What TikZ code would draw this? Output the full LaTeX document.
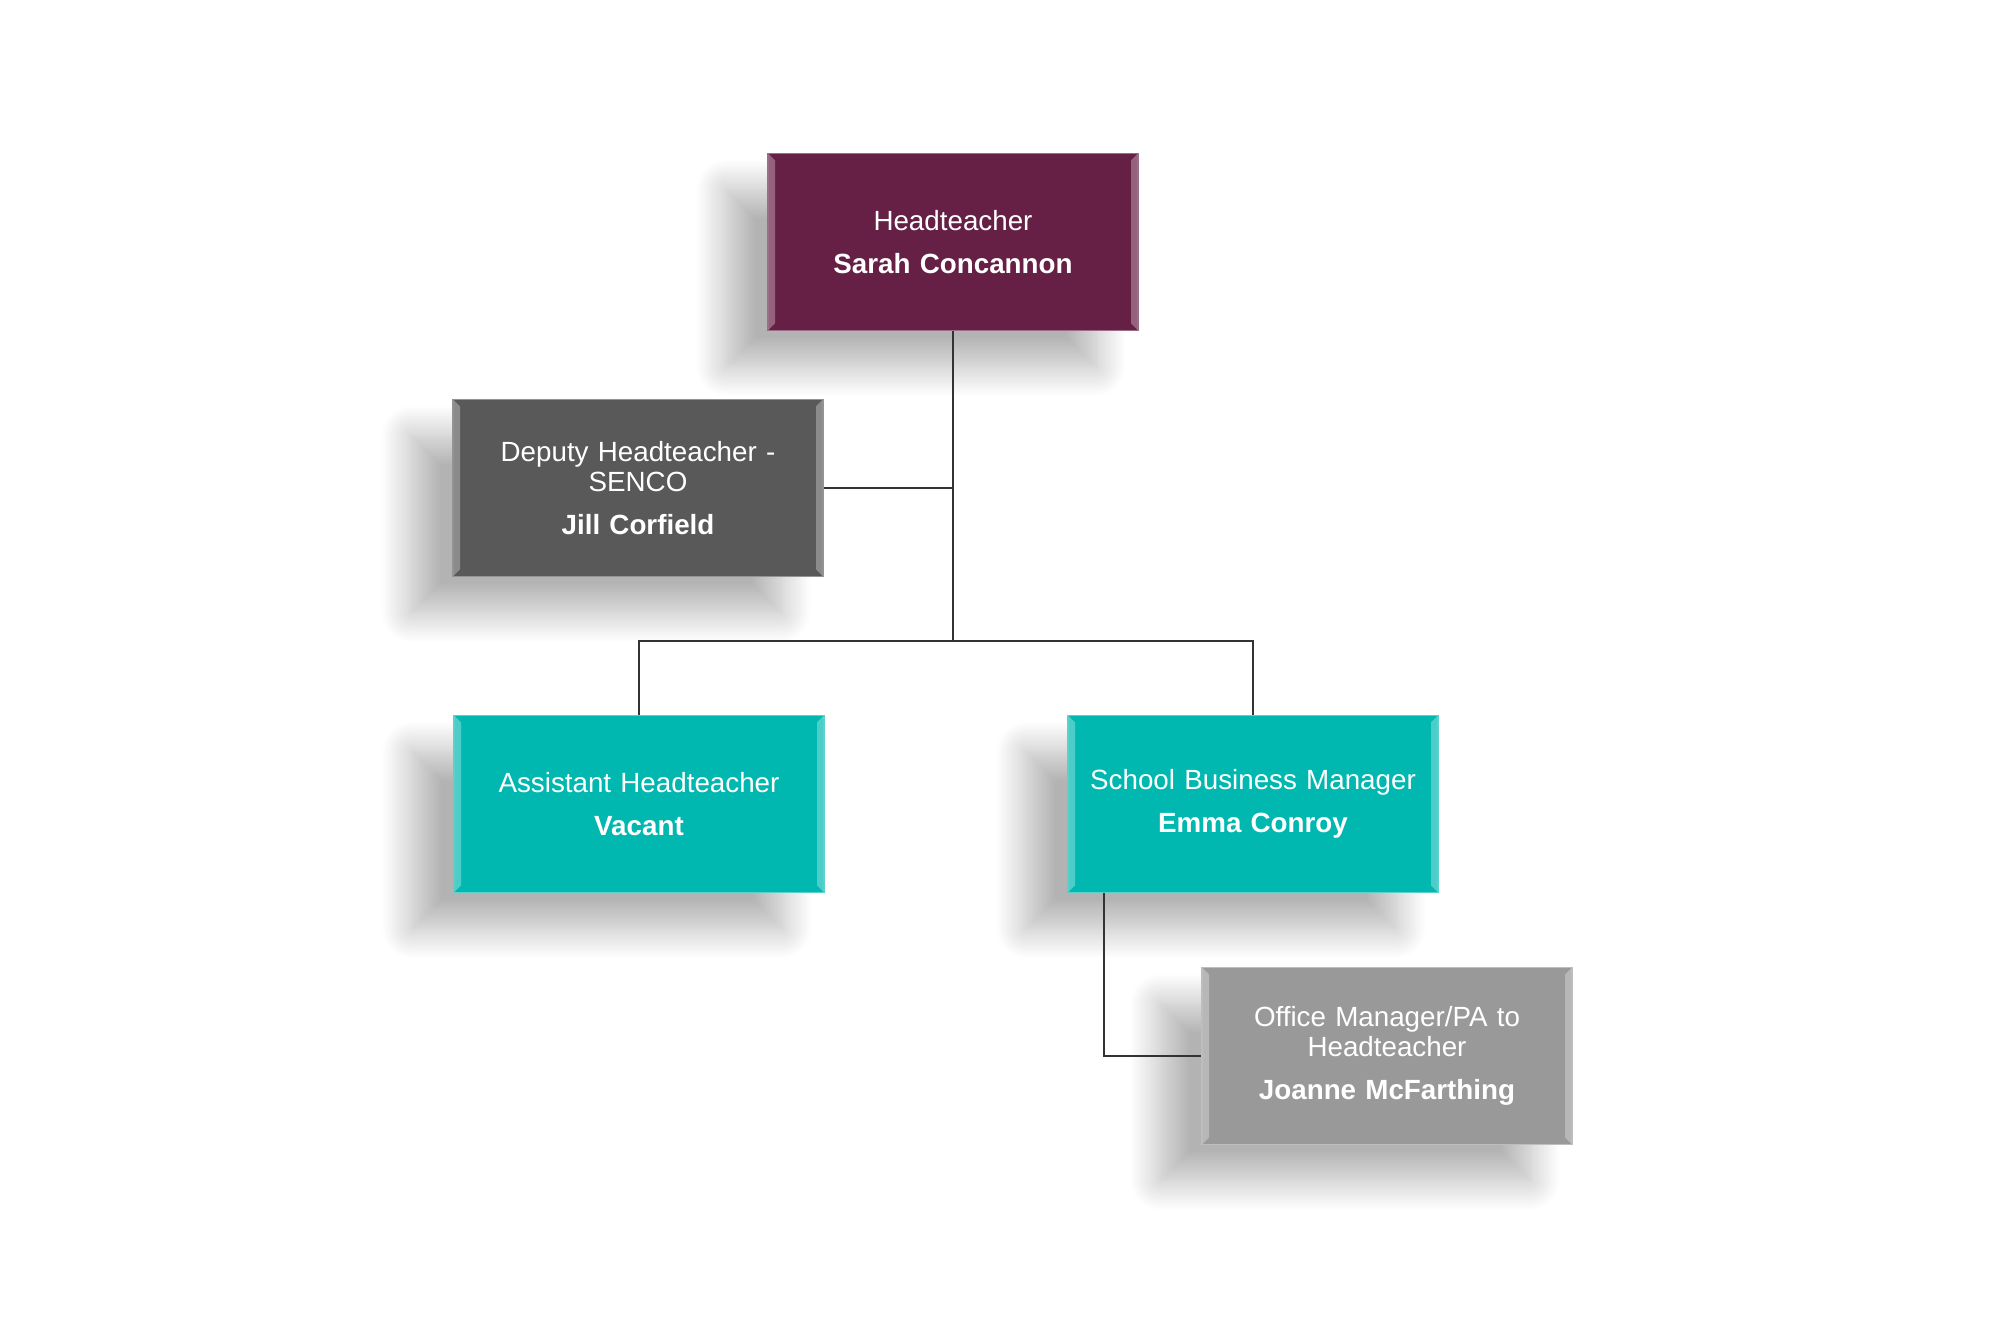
\documentclass[tikz,border=0pt]{standalone}
\usepackage{fontspec}
\setmainfont{Liberation Sans}
\usetikzlibrary{shadows.blur}

\begin{document}
\begin{tikzpicture}[
    box/.style={draw=#1!65!white, fill=#1, line width=0.5pt,
        minimum width=3.70cm, minimum height=1.77cm, text width=3.5cm,
        align=center, text=white, inner sep=0pt,
        font=\fontsize{7.9}{8.5}\selectfont,
        blur shadow={shadow xshift=-0.42cm, shadow yshift=-0.36cm,
            shadow blur radius=0.3cm, shadow blur steps=25, shadow opacity=30},
        path picture={
            \fill[white, opacity=0.3] (path picture bounding box.south west)
                -- (path picture bounding box.north west) -- ++(0.07,-0.07)
                -- ++(0,-1.63) -- cycle;
            \fill[white, opacity=0.3] (path picture bounding box.south east)
                -- (path picture bounding box.north east) -- ++(-0.07,-0.07)
                -- ++(0,-1.63) -- cycle;
        }},
    conn/.style={draw=black!80, line width=0.5pt}
]
    % Define colors
    \definecolor{headcol}{RGB}{102,31,69}
    \definecolor{deputycol}{RGB}{89,89,89}
    \definecolor{teamcol}{RGB}{0,184,176}
    \definecolor{officecol}{RGB}{153,153,153}

    % Page
    \useasboundingbox (0,0) rectangle (20,13.4);

    % Boxes
    \node[box=headcol] (head) at (9.53,10.98)
        {Headteacher\\[3.6pt]\textbf{Sarah Concannon}};
    \node[box=deputycol] (deputy) at (6.38,8.52)
        {Deputy Headteacher -\\SENCO\\[3.6pt]\textbf{Jill Corfield}};
    \node[box=teamcol] (assist) at (6.39,5.36)
        {Assistant Headteacher\\[3.6pt]\textbf{Vacant}};
    \node[box=teamcol] (sbm) at (12.53,5.36)
        {School Business Manager\\[3.6pt]\textbf{Emma Conroy}};
    \node[box=officecol] (office) at (13.87,2.84)
        {Office Manager/PA to\\Headteacher\\[3.6pt]\textbf{Joanne McFarthing}};

    % Connectors
    \coordinate (bar) at (9.53,6.99);
    \draw[conn] (head.south) -- (bar);
    \draw[conn] (deputy.east) -- (deputy.east -| head.south);
    \draw[conn] (assist.north) |- (bar) -| (sbm.north);
    \draw[conn] ([xshift=0.37cm]sbm.south west) |- (office.west);

\end{tikzpicture}
\end{document}
